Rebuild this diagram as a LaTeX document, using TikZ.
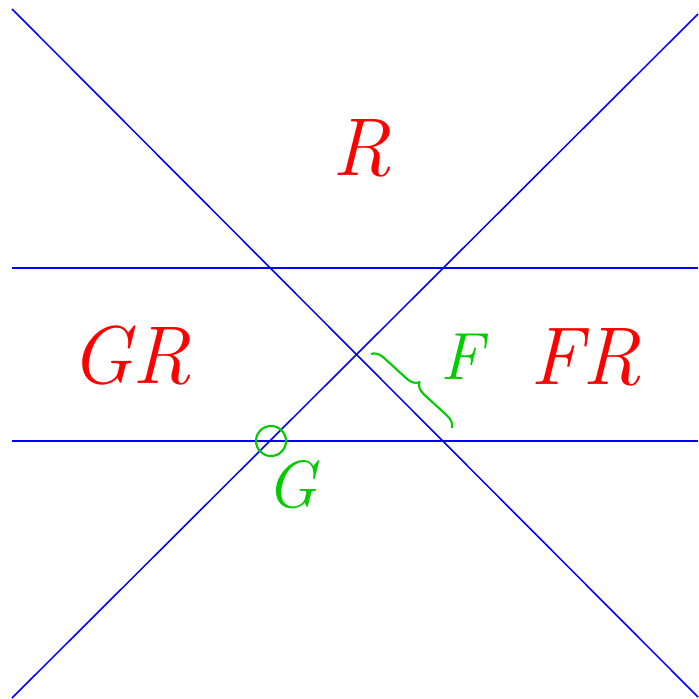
\documentclass[tikz,border=0pt]{standalone}
\usepackage{fontspec}
\usepackage{tikz}
\usetikzlibrary{decorations.pathreplacing}
\definecolor{lineblue}{RGB}{0,0,255}
\definecolor{setred}{RGB}{255,0,0}
\definecolor{markgreen}{RGB}{0,204,0}

\begin{document}
\begin{tikzpicture}[
    x=0.03cm, y=-0.03cm,
    boundary/.style={draw=lineblue, line width=1.3pt},
    region/.style={text=setred, inner sep=0pt, anchor=base, font=\fontsize{70}{70}\selectfont\itshape},
    marklabel/.style={text=markgreen, inner sep=0pt, anchor=base, font=\fontsize{57}{57}\selectfont\itshape},
    markcircle/.style={draw=markgreen, line width=1.8pt, circle, minimum size=0.9cm, inner sep=0pt},
    markbrace/.style={draw=markgreen, line width=1.8pt, decorate, decoration={brace, amplitude=10pt}},
]
\useasboundingbox (0,0) rectangle (698,699);

% End points of the boundaries
\coordinate (downL) at (12,9);
\coordinate (downR) at (698,697);
\coordinate (upL) at (12,698);
\coordinate (upR) at (698,14);
\coordinate (topL) at (12,268);
\coordinate (topR) at (698,268);
\coordinate (botL) at (12,441);
\coordinate (botR) at (698,441);

% Boundaries
\draw[boundary] (downL) -- (downR);
\draw[boundary] (upL) -- (upR);
\draw[boundary] (topL) -- (topR);
\draw[boundary] (botL) -- (botR);

% Regions
\node[region] (r) at (362,175) {R};
\node[region] (gr) at (131,383) {GR};
\node[region] (fr) at (586,384) {FR};

% Marks
\node[markcircle] (gcirc) at (271,441) {};
\node[marklabel] (g) at (292,507) {G};
\coordinate (braceA) at (371,354);
\coordinate (braceB) at (452,428);
\draw[markbrace] (braceA) -- (braceB);
\node[marklabel] (f) at (462,379) {F};

\end{tikzpicture}
\end{document}
